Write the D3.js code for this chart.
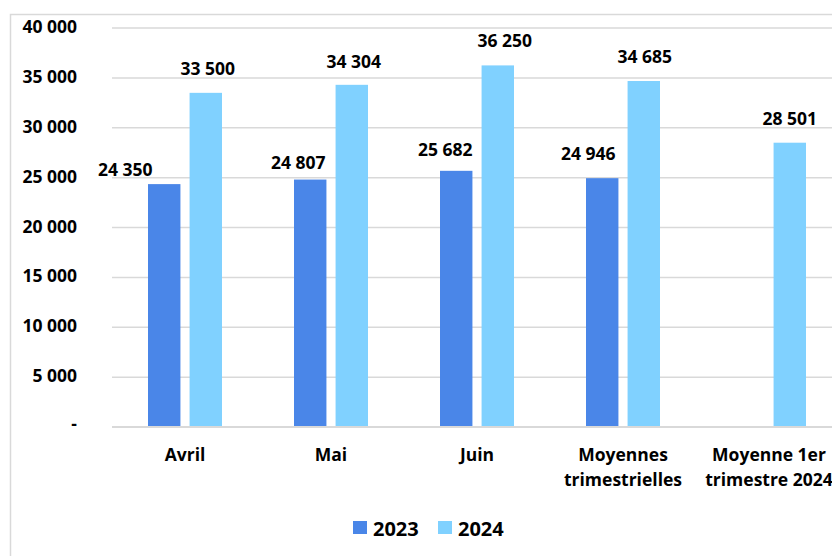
<!DOCTYPE html>
<html>
<head>
<meta charset="utf-8">
<script src="https://cdn.jsdelivr.net/npm/d3@7"></script>
<style>
  body { margin: 0; background: #fff; }
  text { font-family: "Open Sans", "Noto Sans", sans-serif; font-weight: bold; fill: #000; }
</style>
</head>
<body>
<div id="graph"></div>
<script>
let categories = [["Avril"], ["Mai"], ["Juin"], ["Moyennes", "trimestrielles"], ["Moyenne 1er", "trimestre 2024"]];
let years = ["2023", "2024"];
let values2023 = [24350, 24807, 25682, 24946, null];
let values2024 = [33500, 34304, 36250, 34685, 28501];
let yTicks = [0, 5000, 10000, 15000, 20000, 25000, 30000, 35000, 40000];
let colors = ["#4a86e8", "#80d1ff"];

let svgWidth = 832, svgHeight = 556;
let margin = { top: 28, right: -10, bottom: 129, left: 112 };
let width = svgWidth - margin.left - margin.right;
let height = svgHeight - margin.top - margin.bottom;

// label nudges (the 2023 labels sit left of their bars, like in the source)
let labelDx = [[-39, -12, -11, -14, 0], [2, 2, 7, 1, 0]];
let labelGap = [[8, 11, 15, 18, 0], [18, 17, 18, 18, 18]];

let fmt = v => d3.format(",")(v).replace(/,/g, " ");

let svg = d3.select("#graph").append("svg")
  .attr("width", svgWidth)
  .attr("height", svgHeight);

// outer frame
svg.append("rect")
  .attr("x", 10.5).attr("y", 14.5)
  .attr("width", 840).attr("height", 560)
  .attr("fill", "none").attr("stroke", "#d9d9d9").attr("stroke-width", 1.5);

let g = svg.append("g").attr("transform", `translate(${margin.left},${margin.top})`);

let xScale = d3.scaleBand().domain(d3.range(categories.length)).range([0, width]);
let xInner = d3.scaleBand().domain(years).range([36, 110]).paddingInner(0.22);
let yScale = d3.scaleLinear().domain([0, 40000]).range([height, 0]);

// gridlines
g.selectAll("line.grid")
  .data(yTicks.filter(d => d > 0))
  .enter().append("line")
  .attr("x1", 0).attr("x2", width)
  .attr("y1", d => yScale(d)).attr("y2", d => yScale(d))
  .attr("stroke", "#d9d9d9").attr("stroke-width", 1.5);

// y labels
g.selectAll("text.ytick")
  .data(yTicks)
  .enter().append("text")
  .attr("x", -35)
  .attr("y", d => yScale(d) + (d === 0 ? 3 : 5))
  .attr("text-anchor", "end")
  .style("font-size", "17.5px")
  .text(d => d === 0 ? "-" : fmt(d));

let series = [values2023, values2024];
series.forEach(function (vals, si) {
  let data = vals.map((v, i) => ({ i: i, v: v })).filter(d => d.v !== null);
  g.selectAll(null)
    .data(data)
    .enter().append("rect")
    .attr("x", d => xScale(d.i) + xInner(years[si]))
    .attr("width", xInner.bandwidth())
    .attr("y", d => yScale(d.v))
    .attr("height", d => height - yScale(d.v))
    .attr("fill", colors[si]);
  g.selectAll(null)
    .data(data)
    .enter().append("text")
    .attr("x", d => xScale(d.i) + xInner(years[si]) + xInner.bandwidth() / 2 + labelDx[si][d.i])
    .attr("y", d => yScale(d.v) - labelGap[si][d.i])
    .attr("text-anchor", "middle")
    .style("font-size", "17.5px")
    .text(d => fmt(d.v));
});

// baseline
g.append("line")
  .attr("x1", 0).attr("x2", width)
  .attr("y1", height).attr("y2", height)
  .attr("stroke", "#d9d9d9").attr("stroke-width", 2);

// category labels
categories.forEach(function (lines, i) {
  let t = g.append("text")
    .attr("x", xScale(i) + xScale.bandwidth() / 2)
    .attr("y", height + 34)
    .attr("text-anchor", "middle")
    .style("font-size", "17.5px");
  lines.forEach((l, j) => t.append("tspan")
    .attr("x", xScale(i) + xScale.bandwidth() / 2)
    .attr("dy", j === 0 ? 0 : 25)
    .text(l));
});

// legend
let legend = svg.append("g").attr("transform", "translate(353,521)");
years.forEach(function (y, i) {
  let lg = legend.append("g").attr("transform", `translate(${i * 85},0)`);
  lg.append("rect").attr("width", 14).attr("height", 13).attr("fill", colors[i]);
  lg.append("text").attr("x", 20).attr("y", 15).style("font-size", "20px").text(y);
});
</script>
</body>
</html>
